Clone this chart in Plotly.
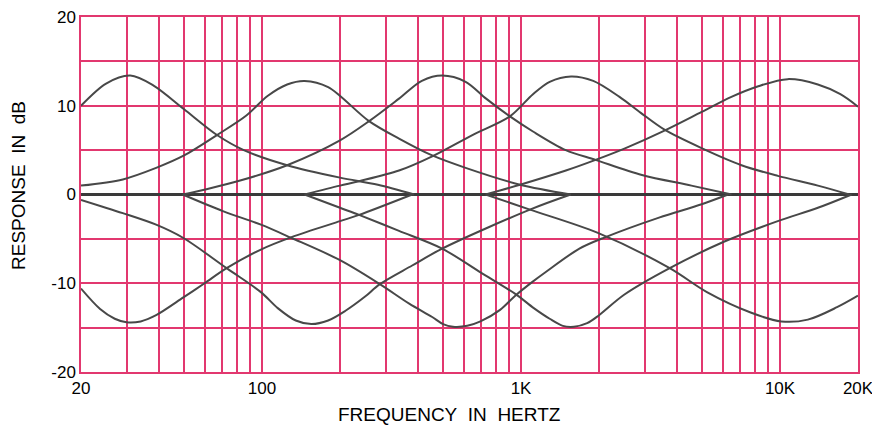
import plotly.graph_objects as go

# ---- data ----
x_tick_vals = [20, 30, 40, 50, 60, 70, 80, 90, 100, 200, 300, 400, 500, 600, 700, 800, 900,
               1000, 2000, 3000, 4000, 5000, 6000, 7000, 8000, 9000, 10000, 20000]
x_tick_text = ["20", "", "", "", "", "", "", "", "100", "", "", "", "", "", "", "", "",
               "1K", "", "", "", "", "", "", "", "", "10K", "20K"]
y_tick_vals = [-20, -15, -10, -5, 0, 5, 10, 15, 20]
y_tick_text = ["-20", "", "-10", "", "0", "", "10", "", "20"]

# boost curves
b1_f = [20, 25, 31, 38, 50, 67, 85, 125, 200, 280, 387]
b1_db = [10.0, 12.5, 13.4, 12.3, 9.6, 6.7, 5.0, 3.3, 1.9, 1.1, 0]

b2_f = [20, 29, 39, 50, 67, 87, 105, 125, 146, 180, 258, 338, 454, 611, 991, 1555]
b2_db = [1.0, 1.7, 3.0, 4.4, 6.7, 8.9, 11.1, 12.4, 12.8, 12.1, 8.3, 6.3, 4.4, 3.0, 1.1, 0]

b3_f = [49.4, 61, 83, 125, 200, 260, 338, 414, 496, 611, 733, 906, 1112, 1488, 1940, 2930, 4550, 6500]
b3_db = [0, 0.6, 1.6, 3.3, 6.1, 8.3, 10.8, 12.8, 13.4, 12.7, 10.8, 8.8, 7.1, 5.0, 3.9, 2.2, 1.0, 0]

b4_f = [146, 200, 237, 338, 454, 649, 906, 1112, 1290, 1560, 1900, 2400, 2900, 3580, 5000, 7100, 9800, 14000, 18500]
b4_db = [0, 1.0, 1.5, 2.7, 4.3, 6.7, 8.8, 11.3, 12.7, 13.3, 12.8, 11.0, 9.2, 7.3, 5.2, 3.3, 2.1, 1.0, 0]

b5_f = [730, 991, 1490, 1940, 2520, 3580, 4980, 6490, 8240, 10700, 14000, 17100, 20000]
b5_db = [0, 1.1, 2.7, 3.9, 5.2, 7.2, 9.3, 11.0, 12.2, 13.0, 12.4, 11.3, 9.9]

# cut curves
c1_f = [20, 23.7, 27, 30, 34, 39, 49.7, 60, 73, 99, 130, 200, 237, 380]
c1_db = [-10.6, -12.9, -14.0, -14.4, -14.3, -13.6, -11.6, -10.0, -8.3, -6.2, -4.8, -3.0, -2.3, 0]

c2_f = [20, 29, 39, 49.7, 73, 99, 115, 135, 155, 180, 210, 250, 285, 380, 496, 1082, 1555]
c2_db = [-0.6, -2.1, -3.4, -4.9, -8.3, -11.0, -12.8, -14.2, -14.6, -14.2, -13.1, -11.5, -10.1, -8.0, -6.1, -1.7, 0]

c3_f = [49.4, 71, 99, 130, 200, 285, 370, 454, 500, 546, 620, 697, 830, 950, 1100, 1250, 1680, 2120, 3410, 4980, 6300]
c3_db = [0, -1.9, -3.4, -4.9, -7.4, -10.1, -12.3, -13.8, -14.6, -14.9, -14.8, -14.3, -13.0, -11.4, -9.9, -8.7, -6.1, -4.8, -2.6, -1.1, 0]

c4_f = [146, 200, 237, 338, 496, 700, 950, 1120, 1290, 1450, 1600, 1800, 2000, 2500, 3750, 6100, 9800, 14000, 18900]
c4_db = [0, -1.5, -2.3, -4.1, -6.1, -8.8, -11.2, -12.8, -14.0, -14.8, -14.9, -14.5, -13.6, -11.3, -8.3, -5.3, -3.0, -1.5, 0]

c5_f = [730, 1082, 1970, 3750, 5220, 7700, 10100, 12800, 16600, 20000]
c5_db = [0, -1.7, -4.3, -8.3, -11.0, -13.3, -14.3, -14.1, -12.7, -11.4]

curves = [(b1_f, b1_db), (b2_f, b2_db), (b3_f, b3_db), (b4_f, b4_db), (b5_f, b5_db),
          (c1_f, c1_db), (c2_f, c2_db), (c3_f, c3_db), (c4_f, c4_db), (c5_f, c5_db)]

# ---- styles ----
PINK = "#e2386f"
CURVE = "#484848"
FONT = "Arial, Liberation Sans, sans-serif"

fig = go.Figure()
for f, db in curves:
    fig.add_trace(go.Scatter(x=f, y=db, mode="lines",
                             line=dict(color=CURVE, width=2, shape="spline", smoothing=0.9),
                             hoverinfo="skip", showlegend=False))

# The page body has an 8px margin, so the figure is 8px smaller and margins compensate.
fig.update_layout(
    width=872, height=419,
    margin=dict(l=73, r=22, t=9, b=55, autoexpand=False),
    paper_bgcolor="white", plot_bgcolor="white",
    font=dict(family=FONT, color="black", size=17),
    xaxis=dict(type="log", range=[1.30103, 4.30103], automargin=False,
               tickvals=x_tick_vals, ticktext=x_tick_text, ticklabeloverflow="allow",
               showgrid=True, gridcolor=PINK, gridwidth=1.5,
               showline=True, linecolor=PINK, linewidth=1.5, mirror=True,
               ticks="", tickfont=dict(size=17), zeroline=False),
    yaxis=dict(range=[-20, 20], tickvals=y_tick_vals, ticktext=y_tick_text, automargin=False,
               ticklabeloverflow="allow",
               showgrid=True, gridcolor=PINK, gridwidth=1.5,
               showline=True, linecolor=PINK, linewidth=1.5, mirror=True,
               ticks="", tickfont=dict(size=17),
               zeroline=True, zerolinecolor="#3a3a3a", zerolinewidth=3),
    annotations=[
        dict(text="FREQUENCY\u00a0\u00a0IN\u00a0\u00a0HERTZ", xref="paper", yref="paper",
             x=(449 - 81) / 777, y=-(414 - 372) / 355, xanchor="center", yanchor="middle",
             showarrow=False, font=dict(size=19)),
        dict(text="RESPONSE\u00a0\u00a0IN\u00a0\u00a0dB", xref="paper", yref="paper",
             x=-(81 - 18) / 777, y=(372 - 186) / 355, xanchor="center", yanchor="middle",
             textangle=-90, showarrow=False, font=dict(size=19)),
    ],
)

fig.write_html("out.html")
